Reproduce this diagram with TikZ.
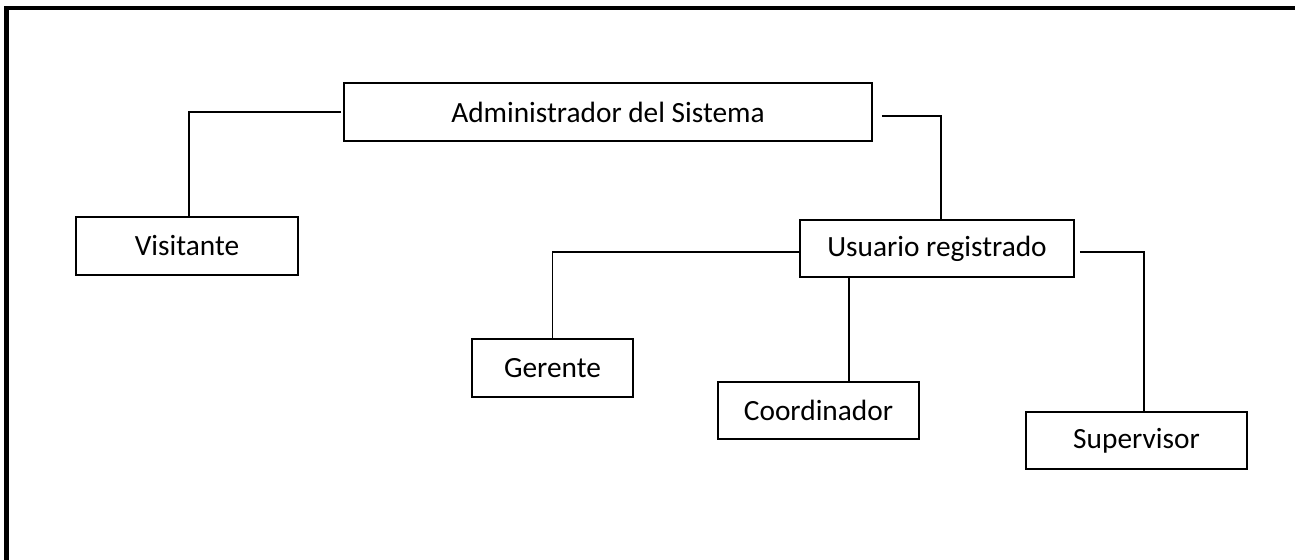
\documentclass[tikz,border=0pt]{standalone}
\usepackage{fontspec}
\setmainfont{Carlito}
\usepackage{tikz}

\tikzset{
    rolebox/.style={draw, line width=1.1pt, fill=white, inner sep=0pt,
        font=\fontsize{16.7}{20}\selectfont},
    link/.style={-, line width=1.1pt}
}

\begin{document}
\begin{tikzpicture}[x=0.02cm, y=-0.02cm]
        \useasboundingbox (0,0) rectangle (1295,560);
        \draw[line width=2.8pt] (6.5,575) |- (1310,8);
        \node[rolebox, minimum width=10.56cm, minimum height=1.16cm] (admin) at (608,112) {Administrador del Sistema};
        \node[rolebox, minimum width=4.44cm, minimum height=1.16cm] (vis) at (187,246) {Visitante};
        \node[rolebox, minimum width=5.48cm, minimum height=1.14cm] (usr) at (937,248.5) {Usuario registrado};
        \node[rolebox, minimum width=3.22cm, minimum height=1.16cm] (ger) at (552.5,368) {Gerente};
        \node[rolebox, minimum width=4.02cm, minimum height=1.14cm] (coord) at (818.5,410.5) {Coordinador};
        \node[rolebox, minimum width=4.42cm, minimum height=1.14cm] (sup) at (1136.5,440.5) {Supervisor};
        \draw[link] ([xshift=-0.04cm]admin.west) -| ([xshift=0.04cm]vis.north);
        \draw[link] ([shift={(9,4)}]admin.east) -| ([xshift=0.08cm]usr.north);
        \draw[link] ([yshift=-0.07cm]usr.west) -| (ger.north);
        \draw[link] ([xshift=-1.76cm]usr.south) -- ([xshift=0.61cm]coord.north);
        \draw[link] ([shift={(5,3.5)}]usr.east) -| ([xshift=0.15cm]sup.north);
    \end{tikzpicture}
\end{document}
